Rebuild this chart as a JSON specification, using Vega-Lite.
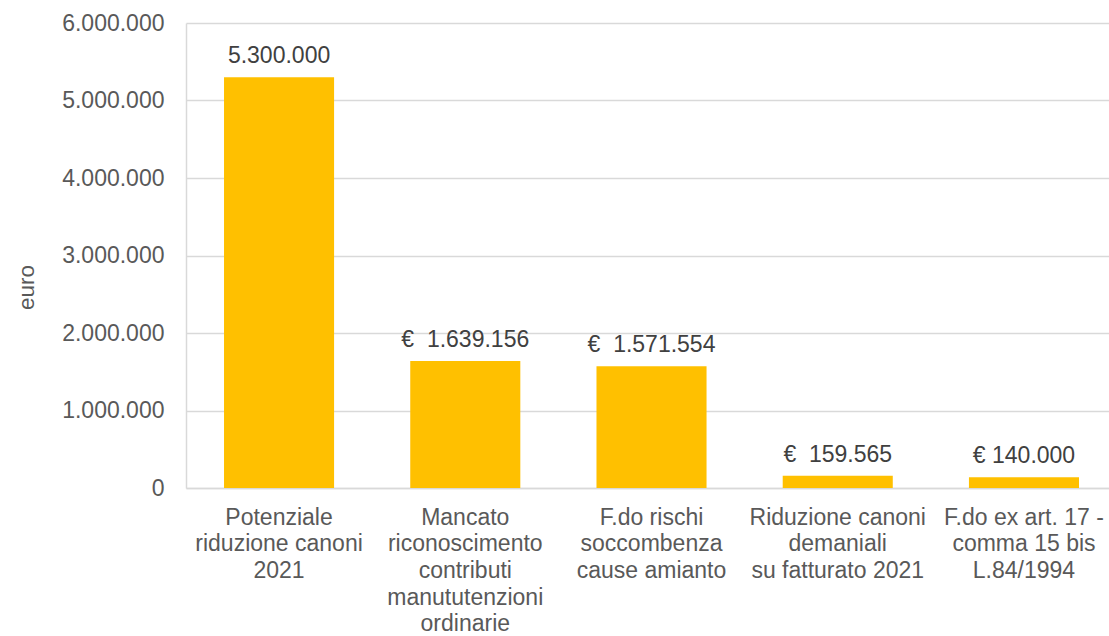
{
  "$schema": "https://vega.github.io/schema/vega-lite/v6.json",
  "width": 923,
  "height": 465,
  "autosize": {"type": "none"},
  "padding": {"left": 186, "top": 23, "right": 0, "bottom": 148},
  "background": "white",
  "data": {
    "values": [
      {"cat": "Potenziale|riduzione canoni|2021", "value": 5300000, "label": "5.300.000"},
      {"cat": "Mancato|riconoscimento|contributi|manututenzioni|ordinarie", "value": 1639156, "label": "€\u00a0\u00a01.639.156"},
      {"cat": "F.do rischi|soccombenza|cause amianto", "value": 1571554, "label": "€\u00a0\u00a01.571.554"},
      {"cat": "Riduzione canoni|demaniali|su fatturato 2021", "value": 159565, "label": "€\u00a0\u00a0159.565"},
      {"cat": "F.do ex art. 17 -|comma 15 bis|L.84/1994", "value": 140000, "label": "€\u00a0140.000"}
    ]
  },
  "encoding": {
    "x": {
      "field": "cat",
      "type": "nominal",
      "sort": null,
      "scale": {"paddingInner": 0.409, "paddingOuter": 0.1826, "align": 0.559},
      "axis": {
        "title": null,
        "labelAngle": 0,
        "labelExpr": "split(datum.label, '|')",
        "labelFont": "Liberation Sans",
        "labelFontSize": 23,
        "labelColor": "#595959",
        "labelLineHeight": 26.7,
        "labelPadding": 18,
        "labelBaseline": "top",
        "ticks": false,
        "domainColor": "#d9d9d9",
        "domainWidth": 1.5,
        "labelLimit": 0
      }
    },
    "y": {
      "field": "value",
      "type": "quantitative",
      "scale": {"domain": [0, 6000000], "nice": false},
      "axis": {
        "title": "euro",
        "values": [0, 1000000, 2000000, 3000000, 4000000, 5000000, 6000000],
        "format": ",d",
        "labelFont": "Liberation Sans",
        "labelFontSize": 23,
        "labelColor": "#595959",
        "labelPadding": 22,
        "ticks": false,
        "domainColor": "#d9d9d9",
        "domainWidth": 1.5,
        "gridColor": "#d9d9d9",
        "gridWidth": 1.5,
        "titleFont": "Liberation Sans",
        "titleFontSize": 22.5,
        "titleFontWeight": "normal",
        "titleColor": "#595959",
        "titleAngle": -90,
        "titleX": -160,
        "titleY": 264,
        "titleBaseline": "middle",
        "titleAlign": "center"
      }
    }
  },
  "layer": [
    {"mark": {"type": "bar", "color": "#FFC000"}},
    {
      "mark": {
        "type": "text",
        "baseline": "alphabetic",
        "dy": -14,
        "font": "Liberation Sans",
        "fontSize": 23,
        "color": "#404040"
      },
      "encoding": {"text": {"field": "label"}}
    }
  ],
  "config": {
    "view": {"stroke": null},
    "locale": {"number": {"decimal": ",", "thousands": ".", "grouping": [3], "currency": ["€", ""]}}
  }
}
